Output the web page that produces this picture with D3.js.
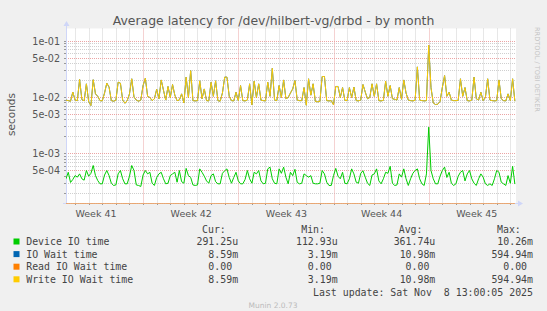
<!DOCTYPE html>
<html>
<head>
<meta charset="utf-8">
<script src="https://cdn.jsdelivr.net/npm/d3@7"></script>
<style>
  html, body { margin: 0; padding: 0; background: #f0f0f0; }
  svg { display: block; }
</style>
</head>
<body>
<div id="chart"></div>
<script>
// Munin "by month" graph: 4-hour samples, first one at Oct 6 08:00 (UTC)
const startTime = Date.UTC(2025, 9, 6, 8, 0);
const endTime = Date.UTC(2025, 10, 8, 10, 0);
const stepMs = 4 * 3600 * 1000;

// Device IO time, milliseconds
const deviceIoMs = [
    0.36, 0.47, 0.31, 0.35, 0.41, 0.385, 0.44, 0.36, 0.34, 0.505,
    0.40, 0.45, 0.62, 0.41, 0.335, 0.293, 0.293, 0.42, 0.505, 0.41,
    0.30, 0.274, 0.28, 0.44, 0.505, 0.36, 0.293, 0.293, 0.40, 0.62,
    0.505, 0.28, 0.274, 0.263, 0.42, 0.505, 0.44, 0.47, 0.30, 0.274,
    0.38, 0.44, 0.47, 0.36, 0.293, 0.30, 0.41, 0.44, 0.47, 0.313,
    0.505, 0.32, 0.30, 0.55, 0.41, 0.38, 0.28, 0.274, 0.28, 0.54,
    0.47, 0.40, 0.33, 0.30, 0.41, 0.44, 0.32, 0.293, 0.293, 0.45,
    0.50, 0.54, 0.38, 0.30, 0.38, 0.47, 0.33, 0.293, 0.293, 0.35,
    0.505, 0.36, 0.30, 0.47, 0.44, 0.505, 0.33, 0.293, 0.30, 0.54,
    0.58, 0.36, 0.30, 0.293, 0.54, 0.45, 0.58, 0.385, 0.293, 0.47,
    0.41, 0.53, 0.31, 0.293, 0.30, 0.44, 0.41, 0.385, 0.41, 0.30,
    0.293, 0.293, 0.30, 0.505, 0.44, 0.313, 0.274, 0.274, 0.41, 0.55,
    0.40, 0.36, 0.47, 0.30, 0.293, 0.36, 0.54, 0.44, 0.313, 0.30,
    0.45, 0.50, 0.385, 0.30, 0.274, 0.42, 0.44, 0.54, 0.33, 0.293,
    0.36, 0.47, 0.45, 0.60, 0.30, 0.274, 0.28, 0.44, 0.385, 0.54,
    0.36, 0.274, 0.36, 0.45, 0.505, 0.54, 0.36, 0.293, 0.274, 0.44,
    2.97, 0.505, 0.36, 0.293, 0.293, 0.40, 0.505, 0.58, 0.38, 0.47,
    0.30, 0.274, 0.293, 0.40, 0.47, 0.505, 0.33, 0.44, 0.505, 0.36,
    0.30, 0.274, 0.36, 0.44, 0.385, 0.293, 0.274, 0.293, 0.274, 0.36,
    0.505, 0.47, 0.313, 0.293, 0.274, 0.41, 0.30, 0.60, 0.29
];

// Write IO wait time, milliseconds
const writeWaitMs = [
    9.0, 8.8, 8.6, 12.5, 9.0, 8.8, 20.9, 9.2, 8.7, 17.5,
    8.5, 7.2, 20.7, 11.6, 10.5, 8.8, 8.7, 12.0, 18.0, 15.3,
    8.8, 8.6, 8.9, 18.7, 18.0, 9.0, 7.9, 8.8, 11.6, 21.5,
    10.2, 9.0, 8.6, 9.0, 16.3, 22.0, 10.5, 10.0, 8.8, 9.5,
    14.0, 9.5, 20.5, 13.5, 9.0, 15.7, 10.0, 17.0, 11.0, 8.8,
    9.0, 11.6, 8.0, 23.0, 10.0, 30.0, 8.8, 8.7, 8.8, 19.8,
    9.5, 14.2, 8.8, 8.7, 18.7, 10.5, 19.8, 8.8, 8.6, 12.0,
    23.0, 23.0, 10.5, 8.8, 8.7, 12.4, 8.8, 16.3, 8.8, 8.7,
    9.0, 17.5, 7.4, 19.5, 10.0, 17.5, 9.0, 8.8, 8.7, 18.7,
    10.5, 33.0, 9.0, 8.8, 16.3, 10.0, 20.5, 9.5, 10.0, 12.0,
    14.2, 20.0, 9.0, 8.8, 8.8, 15.0, 7.3, 21.5, 11.0, 17.5,
    8.5, 8.4, 8.5, 23.6, 23.6, 8.8, 8.7, 8.8, 7.4, 15.7,
    15.7, 10.0, 15.0, 8.9, 8.8, 15.0, 10.0, 15.3, 8.8, 8.7,
    9.0, 17.0, 12.5, 9.5, 10.0, 17.5, 10.5, 17.5, 8.8, 8.7,
    8.9, 19.5, 10.5, 16.3, 9.5, 9.3, 9.0, 15.0, 9.3, 20.5,
    12.0, 9.0, 8.8, 8.7, 8.9, 35.0, 9.0, 8.8, 8.7, 8.8,
    85.0, 15.0, 8.0, 7.5, 7.6, 8.5, 15.0, 24.5, 10.5, 12.4,
    9.0, 8.8, 8.8, 8.9, 21.5, 10.5, 15.0, 8.8, 8.7, 9.0,
    23.0, 9.5, 9.0, 12.4, 8.8, 10.0, 21.5, 9.0, 8.8, 8.7,
    8.8, 20.5, 9.5, 8.8, 8.7, 11.6, 8.8, 21.5, 8.6
];

// IO wait is identical to write IO wait here (no reads at all)
const ioWaitMs = writeWaitMs.slice();
const readWaitMs = writeWaitMs.map(() => 0);

// Legend
const seriesNames = ["Device IO time", "IO Wait time", "Read IO Wait time", "Write IO Wait time"];
const seriesColors = ["#00cc00", "#0066b3", "#ff8000", "#ffcc00"];
const curValues = ["291.25u", "8.59m", "0.00\u00a0", "8.59m"];
const minValues = ["112.93u", "3.19m", "0.00\u00a0", "3.19m"];
const avgValues = ["361.74u", "10.98m", "0.00\u00a0", "10.98m"];
const maxValues = ["10.26m", "594.94m", "0.00\u00a0", "594.94m"];
const columnHeaders = ["Cur:", "Min:", "Avg:", "Max:"];

// Axis labels
const weekLabels = ["Week 41", "Week 42", "Week 43", "Week 44", "Week 45"];
const weekLabelDates = [
    Date.UTC(2025, 9, 8, 12), Date.UTC(2025, 9, 15, 12), Date.UTC(2025, 9, 22, 12),
    Date.UTC(2025, 9, 29, 12), Date.UTC(2025, 10, 5, 12)
];
const yTickValues = [1e-1, 5e-2, 1e-2, 5e-3, 1e-3, 5e-4];
const yMin = 1.31e-4, yMax = 0.1647;

const titleText = "Average latency for /dev/hilbert-vg/drbd - by month";
const lastUpdate = "Last update: Sat Nov\u00a0\u00a08 13:00:05 2025";

class LatencyChart {
    constructor(parentElement) {
        this.parentElement = parentElement;
        this.width = 547;
        this.height = 311;
        // plot canvas in page pixels
        this.plot = {left: 66, right: 516, top: 28.5, bottom: 203};
        this.initVis();
    }

    initVis() {
        let vis = this;
        vis.svg = d3.select("#" + vis.parentElement)
            .append("svg")
            .attr("width", vis.width)
            .attr("height", vis.height);

        vis.svg.append("rect")
            .attr("width", vis.width).attr("height", vis.height)
            .attr("fill", "#f0f0f0");

        vis.svg.append("rect")
            .attr("x", vis.plot.left).attr("y", vis.plot.top)
            .attr("width", vis.plot.right - vis.plot.left)
            .attr("height", vis.plot.bottom - vis.plot.top)
            .attr("fill", "#ffffff");

        vis.setupScales();
        vis.drawGrid();
        vis.drawAxes();
        vis.drawSeries();
        vis.drawText();
        vis.drawLegend();
    }

    setupScales() {
        let vis = this;
        vis.x = d3.scaleUtc()
            .domain([new Date(startTime), new Date(endTime)])
            .range([vis.plot.left, vis.plot.right]);
        vis.y = d3.scaleLog()
            .domain([yMin, yMax])
            .range([vis.plot.bottom, vis.plot.top]);
    }

    drawGrid() {
        let vis = this;
        const g = vis.svg.append("g").attr("class", "grid");
        const crisp = v => Math.round(v) + 0.5;

        // horizontal: 1 and 5 are major, other integer multiples minor
        const minorY = [], majorY = [];
        for (let k = -4; k <= -1; k++) {
            for (let m = 1; m <= 9; m++) {
                const v = m * Math.pow(10, k);
                if (v < yMin || v > yMax) continue;
                (m === 1 || m === 5 ? majorY : minorY).push(v);
            }
        }
        // vertical: days minor, Sundays major
        const days = d3.utcDay.range(new Date(startTime), new Date(endTime));
        const sundays = d3.utcSunday.range(new Date(startTime), new Date(endTime));
        const minorX = days.filter(d => d.getUTCDay() !== 0);

        const hline = (vals, color) => g.selectAll(null).data(vals).join("line")
            .attr("x1", vis.plot.left).attr("x2", vis.plot.right)
            .attr("y1", d => crisp(vis.y(d))).attr("y2", d => crisp(vis.y(d)))
            .attr("stroke", color).attr("stroke-dasharray", "1,1");
        const vline = (vals, color) => g.selectAll(null).data(vals).join("line")
            .attr("x1", d => crisp(vis.x(d))).attr("x2", d => crisp(vis.x(d)))
            .attr("y1", vis.plot.top).attr("y2", vis.plot.bottom)
            .attr("stroke", color).attr("stroke-dasharray", "1,1");

        hline(minorY, "#cfcfcf");
        vline(minorX, "#cfcfcf");
        hline(majorY, "#eba4a4");
        vline(sundays, "#eba4a4");

        // small tick marks on the axes
        g.selectAll(null).data(minorY.concat(majorY)).join("line")
            .attr("x1", vis.plot.left - 2).attr("x2", vis.plot.left)
            .attr("y1", d => crisp(vis.y(d))).attr("y2", d => crisp(vis.y(d)))
            .attr("stroke", "#999");
        g.selectAll(null).data(days).join("line")
            .attr("x1", d => crisp(vis.x(d))).attr("x2", d => crisp(vis.x(d)))
            .attr("y1", vis.plot.bottom).attr("y2", vis.plot.bottom + 2)
            .attr("stroke", "#999");
    }

    drawAxes() {
        let vis = this;
        const axisColor = "#cfd6f8";
        const a = vis.svg.append("g").attr("class", "axis-lines");
        a.append("line")
            .attr("x1", 66.5).attr("x2", 66.5)
            .attr("y1", vis.plot.bottom + 1).attr("y2", 25)
            .attr("stroke", axisColor);
        a.append("path")
            .attr("d", "M63.5,26 L69.5,26 L66.5,21 Z")
            .attr("fill", axisColor);
        a.append("line")
            .attr("x1", 63).attr("x2", 519)
            .attr("y1", 203.5).attr("y2", 203.5)
            .attr("stroke", axisColor);
        a.append("path")
            .attr("d", "M518,200.5 L518,206.5 L523,203.5 Z")
            .attr("fill", axisColor);

        // y tick labels like 1e-01
        const fmt = v => {
            const [m, e] = v.toExponential(0).split("e");
            const n = +e;
            return m + "e" + (n < 0 ? "-" : "+") + String(Math.abs(n)).padStart(2, "0");
        };
        const yAxis = d3.axisLeft(vis.y)
            .tickValues(yTickValues)
            .tickFormat(fmt)
            .tickSize(0)
            .tickPadding(6);
        const yG = vis.svg.append("g")
            .attr("transform", `translate(${vis.plot.left},0.5)`)
            .call(yAxis);
        yG.select(".domain").remove();
        yG.selectAll("text")
            .style("font-family", "DejaVu Sans")
            .style("font-size", "9.6px")
            .attr("fill", "#555");

        // week labels centred in the week
        const xAxis = d3.axisBottom(vis.x)
            .tickValues(weekLabelDates.map(d => new Date(d)))
            .tickFormat((d, i) => weekLabels[i])
            .tickSize(0)
            .tickPadding(7);
        const xG = vis.svg.append("g")
            .attr("transform", `translate(0,${vis.plot.bottom})`)
            .call(xAxis);
        xG.select(".domain").remove();
        xG.selectAll("text")
            .style("font-family", "DejaVu Sans")
            .style("font-size", "9.5px")
            .attr("fill", "#555");
    }

    drawSeries() {
        let vis = this;
        vis.svg.append("clipPath").attr("id", "plot-clip")
            .append("rect")
            .attr("x", vis.plot.left).attr("y", vis.plot.top)
            .attr("width", vis.plot.right - vis.plot.left)
            .attr("height", vis.plot.bottom - vis.plot.top + 1);

        const toPoints = arr => arr.map((v, i) => ({t: new Date(startTime + i * stepMs), v: v / 1000}));
        const line = d3.line()
            .x(d => vis.x(d.t))
            .y(d => vis.y(Math.max(d.v, yMin)) + 0.5);

        const series = [
            {data: toPoints(deviceIoMs), color: seriesColors[0], opacity: 1},
            {data: toPoints(ioWaitMs), color: seriesColors[1], opacity: 1},
            {data: toPoints(readWaitMs), color: seriesColors[2], opacity: 0.55},
            {data: toPoints(writeWaitMs), color: seriesColors[3], opacity: 1}
        ];

        vis.svg.append("g")
            .attr("clip-path", "url(#plot-clip)")
            .selectAll("path")
            .data(series)
            .join("path")
            .attr("d", d => line(d.data))
            .attr("fill", "none")
            .attr("stroke", d => d.color)
            .attr("stroke-opacity", d => d.opacity)
            .attr("stroke-width", 1);
    }

    drawText() {
        let vis = this;
        const title = vis.svg.append("text")
            .attr("x", 273.5).attr("y", 25.2)
            .attr("text-anchor", "middle")
            .style("font-family", "DejaVu Sans")
            .style("font-size", "12px")
            .attr("fill", "#555")
            .text(titleText);
        // fit title to the width it has in the original
        const w = title.node().getComputedTextLength();
        title.style("font-size", (12 * 322 / w).toFixed(2) + "px");

        vis.svg.append("text")
            .attr("transform", "translate(14.5,114.5) rotate(-90)")
            .attr("text-anchor", "middle")
            .style("font-family", "DejaVu Sans")
            .style("font-size", "10.5px")
            .attr("fill", "#555")
            .text("seconds");

        vis.svg.append("text")
            .attr("transform", "translate(535,27) rotate(90)")
            .style("font-family", "DejaVu Sans")
            .style("font-size", "6.6px")
            .attr("fill", "#c4c4c4")
            .text("RRDTOOL / TOBI OETIKER");

        vis.svg.append("text")
            .attr("x", 273).attr("y", 307.5)
            .attr("text-anchor", "middle")
            .style("font-family", "DejaVu Sans")
            .style("font-size", "7.5px")
            .attr("fill", "#bbbbbb")
            .text("Munin 2.0.73");
    }

    drawLegend() {
        let vis = this;
        const font = "DejaVu Sans Mono";
        const size = "9.9px";
        const lg = vis.svg.append("g").attr("class", "legend")
            .style("font-family", font).style("font-size", size);

        const colEnds = [238.1, 337.6, 435.3, 533];
        const headerEnds = [225.8, 325, 422.5, 520.8];
        const rowY = [241.5, 254.1, 266.7, 279.3];
        const columns = [curValues, minValues, avgValues, maxValues];

        lg.selectAll(".hdr").data(columnHeaders).join("text")
            .attr("class", "hdr")
            .attr("x", (d, i) => headerEnds[i]).attr("y", 229 + 3.6)
            .attr("text-anchor", "end")
            .attr("fill", "#444")
            .text(d => d);

        const rows = lg.selectAll(".row").data(seriesNames).join("g")
            .attr("class", "row")
            .attr("transform", (d, i) => `translate(0,${rowY[i]})`);

        rows.append("rect")
            .attr("x", 13.5).attr("y", -3)
            .attr("width", 6).attr("height", 6)
            .attr("fill", (d, i) => seriesColors[i]);

        rows.append("text")
            .attr("x", 26.2).attr("y", 3.6)
            .attr("fill", "#444")
            .text(d => d);

        columns.forEach((col, c) => {
            rows.append("text")
                .attr("x", colEnds[c]).attr("y", 3.6)
                .attr("text-anchor", "end")
                .attr("fill", "#444")
                .text((d, i) => col[i]);
        });

        lg.append("text")
            .attr("x", 533).attr("y", 291.9 + 3.6)
            .attr("text-anchor", "end")
            .attr("fill", "#444")
            .text(lastUpdate);
    }
}

new LatencyChart("chart");
</script>
</body>
</html>
